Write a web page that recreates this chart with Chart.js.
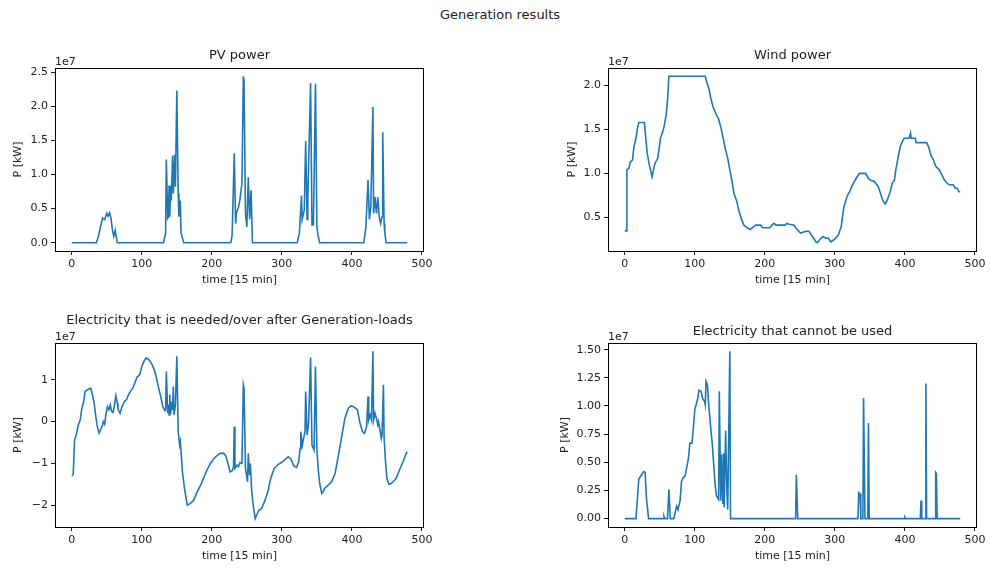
<!DOCTYPE html>
<html>
<head>
<meta charset="utf-8">
<title>Generation results</title>
<script src="https://cdn.jsdelivr.net/npm/chart.js@4.4.1/dist/chart.umd.min.js"></script>
<style>
  body { margin: 0; width: 990px; height: 568px; background: #fff; position: relative; overflow: hidden; font-family: "DejaVu Sans", sans-serif; }
  canvas { position: absolute; }
  #suptitle { position: absolute; left: 0; top: 7px; width: 1000px; line-height: 15px; text-align: center; font-size: 13px; color: #222; }
</style>
</head>
<body>
<div id="suptitle">Generation results</div>
<canvas id="pv"></canvas>
<canvas id="wind"></canvas>
<canvas id="balance"></canvas>
<canvas id="surplus"></canvas>
<script>
// all powers are in units of 1e7 kW, time in 15 min steps (5 days = 480 steps)
const lastStep = 479;
const timeTicks = [0, 100, 200, 300, 400, 500];

const pvTime = [0, 35, 38, 41, 44, 47, 50, 52, 54, 56, 58, 60, 62, 64, 65,
  131, 134, 135, 137, 138, 139, 140, 141, 142, 144, 145, 147, 148, 150, 152, 153, 155, 156, 160,
  227, 229, 232, 234, 235, 238, 240, 243, 245, 246, 248, 250, 252, 254, 256, 258,
  322, 325, 328, 329, 332, 334, 336, 337, 341, 343, 345, 348, 350, 352, 354,
  417, 420, 423, 425, 427, 430, 431, 433, 435, 437, 439, 441, 443, 444, 446, 447, 449, 479];
const pvPower = [0, 0, 0.09, 0.23, 0.36, 0.34, 0.43, 0.39, 0.44, 0.36, 0.19, 0.09, 0.18, 0.06, 0,
  0, 0.14, 1.22, 0.36, 0.38, 0.84, 0.38, 0.83, 0.62, 1.28, 0.72, 1.29, 0.82, 2.23, 0.72, 0.38, 0.62, 0.14, 0,
  0, 0.11, 1.31, 0.28, 0.43, 0.52, 0.62, 0.87, 2.44, 2.38, 0.43, 0.23, 0.96, 0.34, 0.77, 0,
  0, 0.14, 0.69, 0.34, 0.48, 1.49, 0.34, 0.62, 2.34, 0.26, 0.26, 2.33, 0.23, 0.09, 0,
  0, 0.23, 0.92, 0.34, 0.52, 1.99, 0.43, 0.67, 0.43, 0.67, 0.38, 0.28, 0.38, 1.62, 0.28, 0.14, 0, 0];
const pvTicks = [0, 0.5, 1, 1.5, 2, 2.5];

const windTime = [0, 2, 3, 6, 8, 11, 13, 16, 18, 20, 28, 30, 32, 35, 37, 39, 41, 43, 47, 49, 51, 54, 56, 59, 61, 63,
  115, 117, 120, 123, 126, 130, 134, 137, 140, 143, 147, 150, 153, 156, 160, 163, 167, 170, 175, 179, 182, 187,
  194, 197, 207, 210, 213, 216, 229, 231, 235, 242, 244, 251, 259, 263, 268, 273, 275, 280, 283, 287, 291, 294,
  298, 301, 305, 309, 311, 313, 316, 318, 321, 324, 328, 331, 335, 344, 348, 351, 356, 360, 362, 366, 369, 372,
  375, 379, 382, 385, 387, 391, 394, 398, 399, 406, 408, 409, 415, 416, 431, 434, 437, 441, 444, 449, 453, 456,
  460, 463, 469, 472, 475, 477, 479];
const windPower = [0.344, 0.344, 1.04, 1.06, 1.13, 1.15, 1.30, 1.40, 1.51, 1.58, 1.58, 1.40, 1.23, 1.10, 1.03, 0.96, 1.04, 1.11, 1.17, 1.28, 1.40, 1.47, 1.53, 1.66, 1.83, 2.106,
  2.106, 2.04, 1.97, 1.85, 1.76, 1.68, 1.62, 1.53, 1.42, 1.30, 1.17, 1.04, 0.92, 0.77, 0.68, 0.57, 0.47, 0.41, 0.38, 0.36, 0.38, 0.41,
  0.41, 0.38, 0.38, 0.41, 0.43, 0.41, 0.41, 0.43, 0.42, 0.41, 0.38, 0.32, 0.34, 0.34, 0.28, 0.22, 0.21, 0.26, 0.28, 0.26, 0.26, 0.22,
  0.24, 0.26, 0.30, 0.39, 0.51, 0.62, 0.70, 0.75, 0.79, 0.85, 0.91, 0.95, 1.00, 1.00, 0.94, 0.92, 0.91, 0.87, 0.85, 0.75, 0.68, 0.65,
  0.70, 0.79, 0.89, 0.92, 1.04, 1.21, 1.32, 1.39, 1.40, 1.40, 1.46, 1.40, 1.40, 1.35, 1.35, 1.30, 1.21, 1.15, 1.08, 1.04, 0.98, 0.93,
  0.89, 0.87, 0.87, 0.83, 0.83, 0.79, 0.79];
const windTicks = [0.5, 1, 1.5, 2];

const balanceTime = [0, 2, 4, 7, 9, 12, 14, 17, 19, 22, 27, 29, 32, 34, 36, 39, 41, 44, 45, 47, 49, 51, 53, 55, 57, 59,
  61, 63, 65, 66, 69, 71, 75, 78, 81, 84, 87, 90, 93, 97, 100, 103, 106, 109, 112, 116, 120, 123, 127, 130, 133,
  134, 135, 137, 138, 139, 140, 141, 143, 144, 145, 146, 148, 150, 152, 154, 155, 156, 158, 161, 165, 169, 174,
  179, 184, 188, 193, 198, 203, 207, 212, 217, 220, 223, 226, 229, 231, 232, 233, 236, 238, 240, 243, 245, 246,
  248, 251, 252, 254, 255, 257, 259, 262, 264, 267, 271, 275, 280, 284, 289, 295, 301, 305, 309, 313, 317, 321,
  324, 326, 327, 329, 331, 333, 334, 336, 338, 341, 343, 346, 348, 350, 352, 354, 357, 359, 361, 366, 371, 376,
  380, 385, 390, 395, 399, 404, 408, 411, 415, 418, 421, 423, 424, 426, 428, 430, 431, 433, 435, 437, 438, 440,
  442, 443, 445, 446, 448, 450, 453, 456, 460, 463, 467, 470, 474, 477, 479];
const balancePower = [-1.30, -1.27, -0.44, -0.28, -0.10, 0.04, 0.28, 0.48, 0.72, 0.76, 0.80, 0.68, 0.44, 0.16, -0.08, -0.28, -0.20, -0.08, 0.0, -0.06, 0.20, 0.36, 0.28, 0.40, 0.24, 0.22,
  0.40, 0.62, 0.44, 0.30, 0.20, 0.32, 0.48, 0.52, 0.64, 0.73, 0.80, 0.92, 1.06, 1.12, 1.32, 1.44, 1.52, 1.50, 1.44, 1.32, 1.12, 0.88, 0.60, 0.36, 0.26,
  0.28, 1.20, 0.20, 0.40, 0.16, 0.65, 0.18, 0.48, 0.28, 0.84, 0.16, 0.40, 1.56, -0.24, -0.56, -0.48, -0.70, -1.20, -1.60, -2.00, -1.96, -1.88,
  -1.68, -1.52, -1.36, -1.16, -1.00, -0.88, -0.82, -0.76, -0.76, -0.82, -1.00, -1.20, -1.18, -1.08, -0.12, -1.12, -1.04, -1.08, -0.98, -1.00, 0.88, 0.80,
  -1.12, -1.44, -0.76, -1.28, -1.00, -1.68, -2.00, -2.32, -2.24, -2.12, -2.08, -1.92, -1.68, -1.36, -1.12, -1.02, -0.96, -0.90, -0.84, -0.90, -1.06, -1.10,
  -0.96, -0.64, -0.24, -0.58, -0.40, -0.24, 0.72, -0.32, -0.08, 1.53, -0.56, -0.68, 1.32, -0.64, -1.16, -1.48, -1.72, -1.68, -1.60, -1.52, -1.44, -1.24,
  -0.88, -0.40, 0.08, 0.32, 0.38, 0.34, 0.28, 0.0, -0.24, -0.28, -0.12, 0.60, 0.04, 0.16, 0.04, 1.68, 0.04, 0.20, 0.08, -0.08, 0.0, -0.20,
  -0.40, -0.32, 0.88, -0.40, -0.96, -1.36, -1.50, -1.48, -1.42, -1.36, -1.20, -1.08, -0.92, -0.78, -0.72];
const balanceTicks = [-2, -1, 0, 1];

const surplusTime = [0, 16, 20, 22, 24, 27, 29, 31, 34, 55, 56, 57, 61, 63, 65, 70, 74, 76, 79, 81, 83, 86, 88, 91, 93, 96, 98,
  100, 104, 106, 109, 111, 114, 115, 116, 118, 120, 123, 125, 127, 129, 131, 134, 135, 137, 138, 140, 141, 142, 144,
  146, 147, 150, 151, 244, 245, 247, 333, 334, 336, 337, 340, 341, 343, 347, 348, 349, 399, 400, 401,
  422, 423, 424, 429, 430, 431, 443, 444, 445, 446, 479];
const surplusPower = [0, 0, 0.35, 0.37, 0.39, 0.42, 0.41, 0.18, 0, 0, 0.02, 0, 0, 0.26, 0, 0, 0.11, 0.08, 0.16, 0.33, 0.36, 0.38, 0.44, 0.54, 0.67, 0.67, 0.81,
  0.97, 1.06, 1.14, 1.13, 1.07, 1.04, 1.01, 1.22, 1.19, 1.00, 0.79, 0.66, 0.48, 0.30, 0.20, 0.17, 1.13, 0.16, 0.57, 0.13, 0.58, 0.10, 0.78,
  0.21, 0.08, 1.485, 0, 0, 0.39, 0, 0, 0.23, 0.22, 0, 0, 1.07, 0, 0, 0.85, 0, 0, 0.012, 0,
  0, 0.16, 0, 0, 1.20, 0, 0, 0.41, 0.40, 0, 0];
const surplusTicks = [0, 0.25, 0.5, 0.75, 1, 1.25, 1.5];

// layout of the four subplots (page pixels)
const panels = [
  { id: 'pv', title: 'PV power', time: pvTime, power: pvPower, ticks: pvTicks, decimals: 1,
    box: { left: 0, top: 30, width: 495, height: 270 }, area: { left: 55, top: 68, right: 424, bottom: 251 },
    titleY: 56, yLabelX: 18 },
  { id: 'wind', title: 'Wind power', time: windTime, power: windPower, ticks: windTicks, decimals: 1,
    box: { left: 495, top: 30, width: 495, height: 270 }, area: { left: 608, top: 68, right: 977, bottom: 251 },
    titleY: 56, yLabelX: 572 },
  { id: 'balance', title: 'Electricity that is needed/over after Generation-loads', time: balanceTime, power: balancePower,
    ticks: balanceTicks, decimals: 0,
    box: { left: 0, top: 300, width: 495, height: 268 }, area: { left: 55, top: 343, right: 424, bottom: 527 },
    titleY: 321, yLabelX: 18 },
  { id: 'surplus', title: 'Electricity that cannot be used', time: surplusTime, power: surplusPower, ticks: surplusTicks,
    decimals: 2,
    box: { left: 495, top: 300, width: 495, height: 268 }, area: { left: 608, top: 343, right: 977, bottom: 527 },
    titleY: 332, yLabelX: 565 }
];

Chart.defaults.font.family = '"DejaVu Sans", sans-serif';
Chart.defaults.color = '#222';

function formatTick(value, decimals) {
  const text = Math.abs(value).toFixed(decimals);
  return value < 0 ? '\u2212' + text : text;
}

// matplotlib style autoscale: 5% margin on each side of the data
function paddedRange(values) {
  const lo = Math.min(...values);
  const hi = Math.max(...values);
  const margin = (hi - lo) * 0.05;
  return { min: lo - margin, max: hi + margin };
}

// frame, titles, axis labels and the 1e7 offset text
const decorations = {
  id: 'decorations',
  afterDraw(chart, args, opts) {
    const { ctx, chartArea: a } = chart;
    const p = opts.panel;
    ctx.save();
    ctx.strokeStyle = '#000';
    ctx.lineWidth = 1;
    ctx.strokeRect(a.left + 0.5, a.top + 0.5, a.right - a.left - 1, a.bottom - a.top);
    ctx.fillStyle = '#222';

    ctx.font = '13px "DejaVu Sans"';
    ctx.textAlign = 'center';
    ctx.textBaseline = 'middle';
    ctx.fillText(p.title, (a.left + a.right) / 2, p.titleY - p.box.top);

    ctx.font = '11px "DejaVu Sans"';
    ctx.textAlign = 'left';
    ctx.textBaseline = 'alphabetic';
    ctx.fillText('1e7', a.left, a.top - 3);

    ctx.textAlign = 'center';
    ctx.textBaseline = 'middle';
    ctx.fillText('time [15 min]', (a.left + a.right) / 2, a.bottom + 29);

    ctx.translate(p.yLabelX - p.box.left, (a.top + a.bottom) / 2);
    ctx.rotate(-Math.PI / 2);
    ctx.fillText('P [kW]', 0, 0);
    ctx.restore();
  }
};

for (const p of panels) {
  const canvas = document.getElementById(p.id);
  canvas.width = p.box.width;
  canvas.height = p.box.height;
  canvas.style.left = p.box.left + 'px';
  canvas.style.top = p.box.top + 'px';

  const yAxisWidth = p.area.left - p.box.left;
  const xAxisHeight = p.box.top + p.box.height - p.area.bottom;
  const yRange = paddedRange(p.power);
  const tickGrid = { drawOnChartArea: false, drawTicks: true, tickLength: 4, color: '#000', tickColor: '#000', lineWidth: 0.9 };

  new Chart(canvas, {
    type: 'line',
    data: {
      datasets: [{
        data: p.time.map((t, i) => ({ x: t, y: p.power[i] })),
        borderColor: '#1f77b4',
        borderWidth: 1.6,
        pointRadius: 0,
        tension: 0,
        fill: false
      }]
    },
    options: {
      responsive: false,
      animation: false,
      devicePixelRatio: 1,
      layout: {
        padding: { left: 0, bottom: 0, top: p.area.top - p.box.top, right: p.box.left + p.box.width - p.area.right }
      },
      plugins: {
        legend: { display: false },
        tooltip: { enabled: false },
        decorations: { panel: p }
      },
      scales: {
        x: {
          type: 'linear',
          min: -0.05 * lastStep,
          max: lastStep * 1.05,
          afterBuildTicks: s => { s.ticks = timeTicks.map(v => ({ value: v })); },
          afterFit: s => { s.height = xAxisHeight; },
          grid: tickGrid,
          border: { display: false },
          ticks: { padding: 3, maxRotation: 0, autoSkip: false, font: { size: 11 }, callback: v => String(v) }
        },
        y: {
          min: yRange.min,
          max: yRange.max,
          afterBuildTicks: s => { s.ticks = p.ticks.map(v => ({ value: v })); },
          afterFit: s => { s.width = yAxisWidth; },
          grid: tickGrid,
          border: { display: false },
          ticks: { padding: 3, autoSkip: false, font: { size: 11 }, callback: v => formatTick(v, p.decimals) }
        }
      }
    },
    plugins: [decorations]
  });
}
</script>
</body>
</html>
